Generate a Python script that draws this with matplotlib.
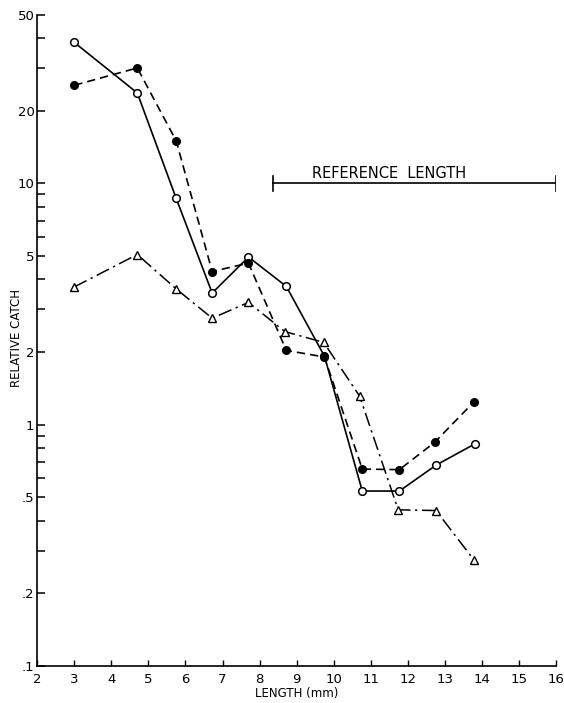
import matplotlib
matplotlib.use("Agg")
import matplotlib.pyplot as plt
from matplotlib.ticker import FixedLocator, FixedFormatter, NullFormatter

# relative catch vs length, three series
len_open = [3.0, 4.7, 5.75, 6.72, 7.7, 8.72, 9.75, 10.77, 11.77, 12.77, 13.8]
catch_open = [38.4, 23.7, 8.66, 3.51, 4.95, 3.74, 1.92, 0.53, 0.53, 0.68, 0.83]

len_filled = [3.0, 4.7, 5.75, 6.72, 7.7, 8.72, 9.75, 10.77, 11.77, 12.72, 13.78]
catch_filled = [25.5, 30.1, 15.0, 4.31, 4.67, 2.03, 1.905, 0.654, 0.65, 0.843, 1.24]

len_tri = [3.0, 4.7, 5.75, 6.72, 7.7, 8.68, 9.73, 10.7, 11.74, 12.76, 13.78]
catch_tri = [3.72, 5.07, 3.65, 2.76, 3.21, 2.43, 2.19, 1.31, 0.443, 0.44, 0.275]

ref_start, ref_end, ref_level = 8.35, 16.0, 10.0

y_major = [0.1, 0.2, 0.5, 1, 2, 5, 10, 20, 50]
y_major_labels = [".1", ".2", ".5", "1", "2", "5", "10", "20", "50"]
y_minor = [0.3, 0.4, 0.6, 0.7, 0.8, 0.9, 3, 4, 6, 7, 8, 9, 30, 40]
x_ticks = list(range(2, 17))

plt.rcParams["font.family"] = "DejaVu Sans"

fig = plt.figure(figsize=(5.64, 7.03), dpi=100)
ax = fig.add_axes([0.066, 0.053, 0.92, 0.926])

ax.plot(len_open, catch_open, color="black", lw=1.2, marker="o",
        ms=5.5, mfc="white", mec="black", mew=1.1, zorder=3)
ax.plot(len_filled, catch_filled, color="black", lw=1.2, ls=(0, (5, 3)),
        marker="o", ms=5.5, mfc="black", mec="black", zorder=3)
ax.plot(len_tri, catch_tri, color="black", lw=1.1, ls=(0, (9, 3, 1.5, 3)),
        marker="^", ms=6, mfc="white", mec="black", mew=1.0, zorder=3)

# reference length bar
ax.plot([ref_start, ref_end], [ref_level, ref_level], color="black", lw=1.2)
for xe in (ref_start, ref_end):
    ax.plot([xe, xe], [ref_level * 0.93, ref_level * 1.075], color="black", lw=1.2)
ax.text(11.5, ref_level * 1.02, "REFERENCE  LENGTH",
        ha="center", va="bottom", fontsize=10.5, color="black")

ax.set_yscale("log")
ax.set_xlim(2, 16)
ax.set_ylim(0.1, 50)

ax.yaxis.set_major_locator(FixedLocator(y_major))
ax.yaxis.set_major_formatter(FixedFormatter(y_major_labels))
ax.yaxis.set_minor_locator(FixedLocator(y_minor))
ax.yaxis.set_minor_formatter(NullFormatter())
ax.set_xticks(x_ticks)
ax.set_xticklabels([str(t) for t in x_ticks])

ax.tick_params(axis="y", which="both", direction="in", length=6, width=1.1,
               labelsize=9.5, pad=2)
ax.tick_params(axis="x", which="both", direction="in", length=4, width=1.0,
               labelsize=9.5, pad=5)

for side in ("top", "right"):
    ax.spines[side].set_visible(False)
for side in ("left", "bottom"):
    ax.spines[side].set_linewidth(1.2)

ax.set_xlabel("LENGTH (mm)", fontsize=8.5, labelpad=1)
ax.set_ylabel("RELATIVE CATCH", fontsize=8.5)
ax.yaxis.set_label_coords(-0.027, 0.5 - (338 - 340.5) / 651)

fig.savefig("out.png", dpi=100, facecolor="white")
